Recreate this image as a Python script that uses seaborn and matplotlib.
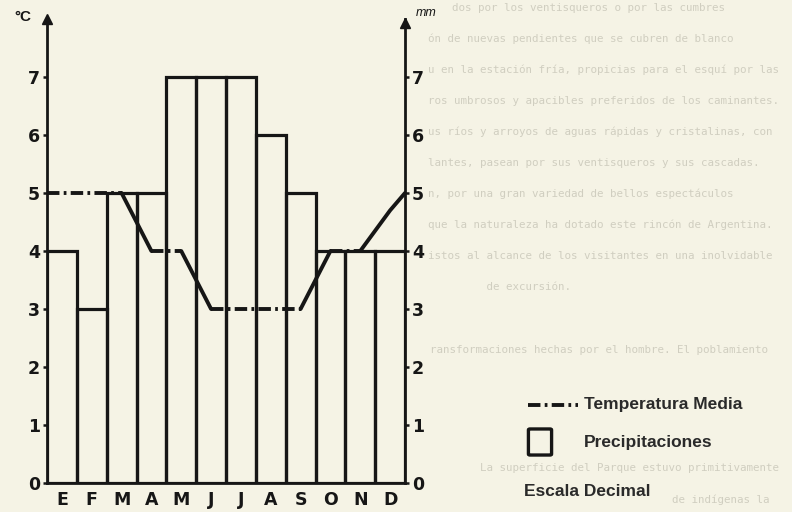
import numpy as np
import pandas as pd
import matplotlib.pyplot as plt
import seaborn as sns
from matplotlib.lines import Line2D
from matplotlib.patches import FancyBboxPatch

# chart data
months = ["E", "F", "M", "A", "M", "J", "J", "A", "S", "O", "N", "D"]
precip_mm = [4, 3, 5, 5, 7, 7, 7, 6, 5, 4, 4, 4]
temp_c = [5, 5, 5, 4, 4, 3, 3, 3, 3, 4, 4, 4.7]
temp_edges = [5, 5]  # where the line meets the left and right axes
y_ticks = [0, 1, 2, 3, 4, 5, 6, 7]

legend_labels = ["Temperatura Media", "Precipitaciones", "Escala Decimal"]

# show-through text from the other side of the scanned page
bg_lines = [
    "dos por los ventisqueros o por las cumbres",
    "ón de nuevas pendientes que se cubren de blanco",
    "u en la estación fría, propicias para el esquí por las",
    "ros umbrosos y apacibles preferidos de los caminantes.",
    "us ríos y arroyos de aguas rápidas y cristalinas, con",
    "lantes, pasean por sus ventisqueros y sus cascadas.",
    "n, por una gran variedad de bellos espectáculos",
    "que la naturaleza ha dotado este rincón de Argentina.",
    "istos al alcance de los visitantes en una inolvidable",
    "         de excursión.",
]
bg_lower = [
    (430, 350, "ransformaciones hechas por el hombre. El poblamiento"),
    (480, 468, "La superficie del Parque estuvo primitivamente"),
    (672, 500, "de indígenas la"),
]

PAPER = "#f5f3e5"
INK = "#161616"
GHOST = "#d0cec0"

sns.set_theme(style="white", rc={"figure.facecolor": PAPER, "axes.facecolor": "none"})
plt.rcParams["font.family"] = ["Liberation Sans", "DejaVu Sans"]

W, H = 792, 512
fig = plt.figure(figsize=(W / 100, H / 100), dpi=100)

for i, line in enumerate(bg_lines):
    x0 = 452 if i == 0 else 428
    fig.text(x0 / W, 1 - (8 + 31 * i) / H, line, family="DejaVu Sans Mono",
             fontsize=7.8, color=GHOST, va="center", ha="left", zorder=0)
for x, y, line in bg_lower:
    fig.text(x / W, 1 - y / H, line, family="DejaVu Sans Mono",
             fontsize=7.8, color=GHOST, va="center", ha="left", zorder=0)

ax = fig.add_axes([47 / W, (H - 483) / H, (405 - 47) / W, (483 - 19) / H])

# precipitation bars
sns.barplot(x=list(range(len(months))), y=precip_mm, ax=ax, fill=False,
            width=1.0, color=INK, edgecolor=INK, linewidth=2.3, zorder=2)

# temperature line: flat stretches dash-dot, ramps solid
tx = [-0.5] + list(range(len(months))) + [len(months) - 0.5]
ty = [temp_edges[0]] + temp_c + [temp_edges[1]]
rows = []
seg = 0
prev_kind = None
for i in range(len(tx) - 1):
    kind = "flat" if ty[i] == ty[i + 1] else "ramp"
    if kind != prev_kind:
        seg += 1
        rows.append((seg, tx[i], ty[i], kind))
    rows.append((seg, tx[i + 1], ty[i + 1], kind))
    prev_kind = kind
temp_df = pd.DataFrame(rows, columns=["seg", "x", "y", "kind"])
sns.lineplot(data=temp_df, x="x", y="y", units="seg", estimator=None,
             style="kind", dashes={"flat": (3.2, 1.1, 0.7, 1.1), "ramp": ""},
             color=INK, linewidth=2.8, sort=False, legend=False, ax=ax, zorder=3)

ax.set_xlim(-0.5, len(months) - 0.5)
ax.set_ylim(0, 8)
ax.set_xlabel("")
ax.set_ylabel("")
ax.set_xticks(range(len(months)))
ax.set_xticklabels(months)
ax.set_yticks(y_ticks)
ax.set_yticklabels([str(v) for v in y_ticks])

for side in ["left", "right", "bottom"]:
    ax.spines[side].set_visible(True)
    ax.spines[side].set_color(INK)
    ax.spines[side].set_linewidth(2.0)
ax.spines["top"].set_visible(False)

ax.tick_params(axis="x", length=0, pad=6, labelsize=12.5, colors=INK)
ax.tick_params(axis="y", which="both", left=True, right=True, labelleft=True,
               labelright=True, direction="out", length=3, width=1.8,
               pad=2, labelsize=12.5, colors=INK)
for lab in ax.get_xticklabels() + ax.get_yticklabels(which="both"):
    lab.set_fontweight("bold")
    lab.set_family(["DejaVu Sans"])

# axis arrowheads
ax.plot([0], [1], marker="^", ms=7, color=INK, transform=ax.transAxes, clip_on=False)
ax.plot([1], [0.992], marker="^", ms=7, color=INK, transform=ax.transAxes, clip_on=False)

fig.text(14 / W, 1 - 17 / H, "°C", fontsize=11, fontweight="bold", color=INK, va="center")
fig.text(416 / W, 1 - 13 / H, "mm", fontsize=9, style="italic", color=INK, va="center")

# legend
fig.add_artist(Line2D([528 / W, 578 / W], [1 - 405 / H, 1 - 405 / H], color=INK,
                      linewidth=2.8, dashes=(3.2, 1.1, 0.7, 1.1)))
fig.add_artist(FancyBboxPatch((530 / W, 1 - 454 / H), 20 / W, 24 / H,
                              boxstyle="round,pad=0.002", fill=False,
                              edgecolor=INK, linewidth=2.4))
fig.text(584 / W, 1 - 405 / H, legend_labels[0], fontsize=12.5, fontweight="bold",
         color="#2a2a2a", va="center")
fig.text(584 / W, 1 - 442 / H, legend_labels[1], fontsize=12.5, fontweight="bold",
         color="#2a2a2a", va="center")
fig.text(524 / W, 1 - 492 / H, legend_labels[2], fontsize=12.5, fontweight="bold",
         color="#2a2a2a", va="center")

fig.savefig("out.png", dpi=100, facecolor=PAPER)
